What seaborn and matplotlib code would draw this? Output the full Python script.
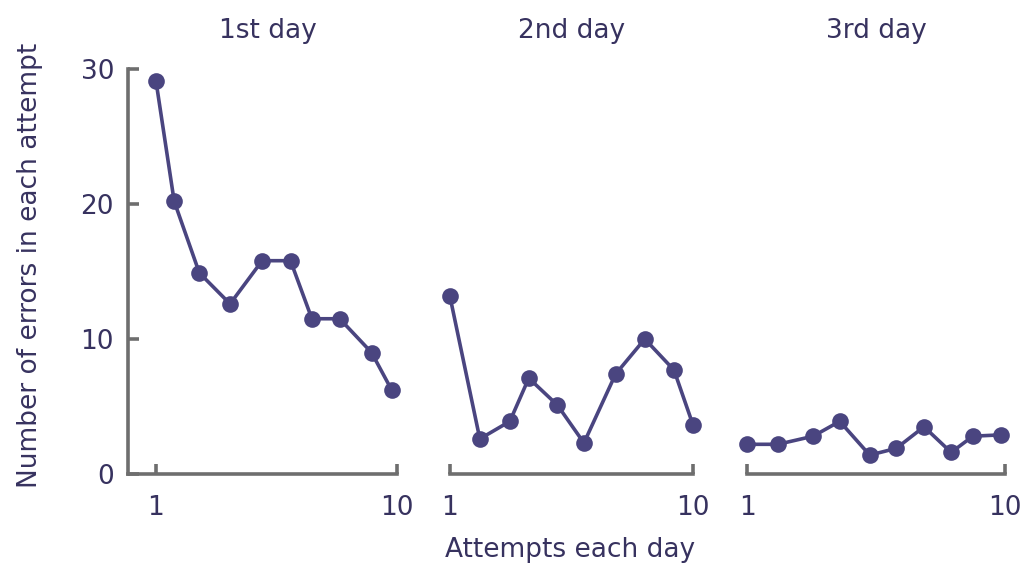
import matplotlib
matplotlib.use("Agg")
import matplotlib.pyplot as plt
import seaborn as sns
import pandas as pd

# ---- data ----
days = ["1st day", "2nd day", "3rd day"]
attempts_day1 = [1, 1.68, 2.62, 3.77, 4.97, 6.03, 6.83, 7.87, 9.06, 9.82]
errors_day1 = [29.1, 20.2, 14.9, 12.6, 15.8, 15.8, 11.5, 11.5, 9.0, 6.2]
attempts_day2 = [1, 2.11, 3.22, 3.92, 4.98, 5.96, 7.13, 8.21, 9.29, 10]
errors_day2 = [13.2, 2.6, 3.9, 7.1, 5.1, 2.3, 7.4, 10.0, 7.7, 3.6]
attempts_day3 = [1, 2.07, 3.30, 4.23, 5.28, 6.21, 7.18, 8.13, 8.89, 9.88]
errors_day3 = [2.2, 2.2, 2.8, 3.9, 1.4, 1.9, 3.5, 1.6, 2.8, 2.9]
x_ticks = [1, 10]
y_ticks = [0, 10, 20, 30]
y_label = "Number of errors in each attempt"
x_label = "Attempts each day"

sns.set_theme(style="white")
plt.rcParams["font.family"] = ["DejaVu Sans"]

TEXT = "#37325f"
LINE = "#4a4580"
SPINE = "#6e6e6e"
FS = 19

W, H = 1023, 570
fig = plt.figure(figsize=(W / 100, H / 100), dpi=100)

def px_axes(left, top, width, height):
    return fig.add_axes([left / W, 1 - (top + height) / H, width / W, height / H])

y0_px, y30_px = 474, 69
ax_h = y0_px - y30_px

# panel geometry (pixel based)
ax1 = px_axes(128, y30_px, 280, ax_h)
ax2 = px_axes(439, y30_px, 265, ax_h)
ax3 = px_axes(736, y30_px, 280, ax_h)

xs = [attempts_day1, attempts_day2, attempts_day3]
ys = [errors_day1, errors_day2, errors_day3]
xlims = [(1 - 28 / 26.74, 1 - 28 / 26.74 + 280 / 26.74), (0.6, 10.4), (0.6, 10.4)]

for i, ax in enumerate([ax1, ax2, ax3]):
    df = pd.DataFrame({"attempt": xs[i], "errors": ys[i]})
    sns.lineplot(data=df, x="attempt", y="errors", ax=ax, color=LINE,
                 linewidth=2.6, marker="o", markersize=12, markeredgewidth=0,
                 sort=False, clip_on=False)
    ax.set_xlim(*xlims[i])
    ax.set_ylim(0, 30)
    ax.set_facecolor("none")
    for s in ["top", "right"]:
        ax.spines[s].set_visible(False)
    ax.spines["bottom"].set_color(SPINE)
    ax.spines["bottom"].set_linewidth(2.6)
    ax.set_xticks(x_ticks)
    ax.set_xticklabels([str(t) for t in x_ticks])
    ax.tick_params(axis="x", direction="in", length=7, width=2.6, color=SPINE,
                   labelsize=FS, labelcolor=TEXT, pad=15, bottom=True)
    ax.set_xlabel("")
    ax.set_ylabel("")
    ax.set_title(days[i], fontsize=FS, color=TEXT, pad=22)
    if i == 0:
        ax.spines["left"].set_color(SPINE)
        ax.spines["left"].set_linewidth(2.6)
        ax.spines["bottom"].set_bounds(xlims[0][0], 10)
        ax.set_yticks(y_ticks)
        ax.set_yticklabels([str(t) for t in y_ticks])
        ax.tick_params(axis="y", direction="in", length=8, width=2.6, color=SPINE,
                       labelsize=FS, labelcolor=TEXT, pad=10, left=True)
    else:
        ax.spines["left"].set_visible(False)
        ax.spines["bottom"].set_bounds(1, 10)
        ax.set_yticks([])

fig.text(30 / W, 1 - 265 / H, y_label, rotation=90, ha="center", va="center",
         fontsize=FS, color=TEXT)
fig.text(570 / W, 1 - 550 / H, x_label, ha="center", va="center",
         fontsize=FS, color=TEXT)

fig.savefig("out.png", dpi=100, facecolor="white")
